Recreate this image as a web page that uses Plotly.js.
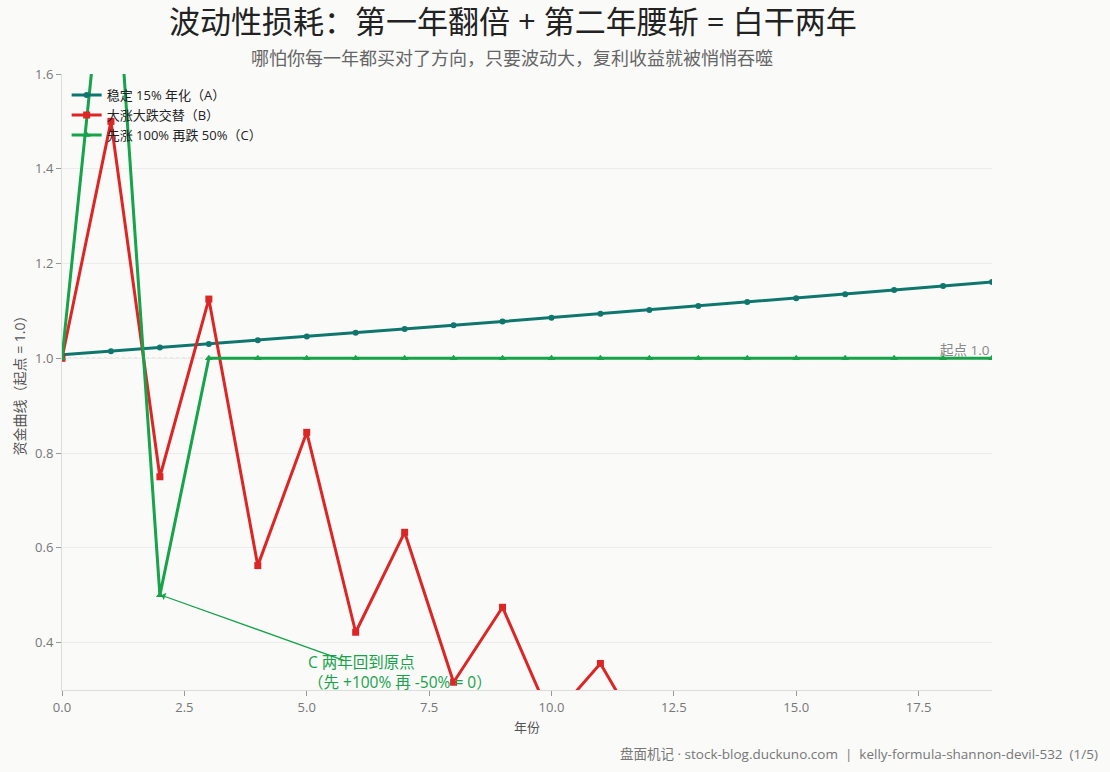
<!DOCTYPE html>
<html><head><meta charset="utf-8">
<script src="https://cdn.plot.ly/plotly-3.0.1.min.js"></script>
<style>html,body{margin:0;padding:0;background:#fafaf9;}#chart{width:1110px;height:772px;}</style>
</head><body><div id="chart"></div>
<script>
const years = [0,1,2,3,4,5,6,7,8,9,10,11,12,13,14,15,16,17,18,19];
const seriesA = [1.0075,1.0151,1.0227,1.0303,1.0381,1.0459,1.0537,1.0616,1.0696,1.0776,1.0857,1.0938,1.1020,1.1103,1.1186,1.1270,1.1354,1.1440,1.1525,1.1612];
const seriesB = [1.0,1.5,0.75,1.125,0.5625,0.84375,0.421875,0.6328,0.3164,0.4746,0.2373,0.356,0.178,0.267,0.1335,0.2002,0.1001,0.1502,0.0751,0.1126];
const seriesC = [1.0,2.0,0.5,1.0,1.0,1.0,1.0,1.0,1.0,1.0,1.0,1.0,1.0,1.0,1.0,1.0,1.0,1.0,1.0,1.0];
const names = ['稳定 15% 年化（A）','大涨大跌交替（B）','先涨 100% 再跌 50%（C）'];
const colors = ['#0f766e','#dc2626','#16a34a'];
const FONT = '"Open Sans", "Noto Sans CJK SC", sans-serif';

const traces = [
  {x: years, y: seriesA, name: names[0], mode: 'lines+markers', line: {color: colors[0], width: 3}, marker: {symbol: 'circle', size: 6, color: colors[0]}},
  {x: years, y: seriesB, name: names[1], mode: 'lines+markers', line: {color: colors[1], width: 3}, marker: {symbol: 'square', size: 7, color: colors[1]}},
  {x: years, y: seriesC, name: names[2], mode: 'lines+markers', line: {color: colors[2], width: 3}, marker: {symbol: 'triangle-up', size: 7, color: colors[2]}}
];

const layout = {
  width: 1110, height: 772,
  paper_bgcolor: '#fafaf9', plot_bgcolor: '#fafaf9',
  font: {family: FONT, color: '#555', size: 13},
  margin: {l: 62, r: 118, t: 74, b: 82},
  title: {text: '波动性损耗：第一年翻倍 + 第二年腰斩 = 白干两年', x: 0.462, xanchor: 'center', y: 0.971, yanchor: 'middle', font: {size: 31, color: '#222', family: FONT}},
  showlegend: true,
  legend: {x: 0.005, y: 0.99, xanchor: 'left', yanchor: 'top', bgcolor: 'rgba(0,0,0,0)', font: {size: 13, color: '#222'}, tracegroupgap: 0, itemwidth: 30},
  xaxis: {range: [0, 19], dtick: 2.5, tick0: 0, tickformat: '.1f', showgrid: false, zeroline: false, showline: true, linecolor: '#dddddd', linewidth: 1, ticks: 'outside', ticklen: 5, tickcolor: '#999', tickfont: {size: 13, color: '#777'},
    title: {text: '年份', font: {size: 13, color: '#555'}, standoff: 8}},
  yaxis: {range: [0.3, 1.6], dtick: 0.2, tick0: 0.4, tickformat: '.1f', showgrid: true, gridcolor: '#ececec', gridwidth: 1, zeroline: false, showline: true, linecolor: '#dddddd', linewidth: 1, ticks: 'outside', ticklen: 5, tickcolor: '#999', tickfont: {size: 13, color: '#777'},
    title: {text: '资金曲线（起点 = 1.0）', font: {size: 14, color: '#555'}, standoff: 6}},
  shapes: [
    {type: 'line', xref: 'paper', x0: 0, x1: 1, yref: 'y', y0: 1.0, y1: 1.0, line: {color: '#999', width: 1, dash: 'dot'}, layer: 'below'}
  ],
  annotations: [
    {xref: 'paper', yref: 'paper', x: 0.484, y: 1.0, yshift: 16, xanchor: 'center', yanchor: 'middle', text: '哪怕你每一年都买对了方向，只要波动大，复利收益就被悄悄吞噬', showarrow: false, font: {size: 18, color: '#666'}},
    {xref: 'paper', yref: 'y', x: 1.0, y: 1.0, xanchor: 'right', yanchor: 'bottom', yshift: -3, text: '起点 1.0', showarrow: false, font: {size: 13.5, color: '#888'}},
    {xref: 'x', yref: 'y', x: 2.03, y: 0.5, ax: 5.8, ay: 0.361, axref: 'x', ayref: 'y', text: '', showarrow: true, arrowhead: 1, arrowsize: 1, arrowwidth: 1.3, arrowcolor: '#16a34a', standoff: 0},
    {xref: 'x', yref: 'y', x: 4.98, y: 0.338, xanchor: 'left', yanchor: 'middle', align: 'left', text: 'C 两年回到原点<br>（先 +100% 再 -50% = 0）', showarrow: false, font: {size: 15.5, color: '#16a34a'}},
    {xref: 'paper', yref: 'paper', x: 1.116, y: -0.104, xanchor: 'right', yanchor: 'middle', text: '盘面机记 · stock-blog.duckuno.com  |  kelly-formula-shannon-devil-532  (1/5)', showarrow: false, font: {size: 13.5, color: '#777'}}
  ]
};
Plotly.newPlot('chart', traces, layout, {displayModeBar: false, staticPlot: true});
</script></body></html>
